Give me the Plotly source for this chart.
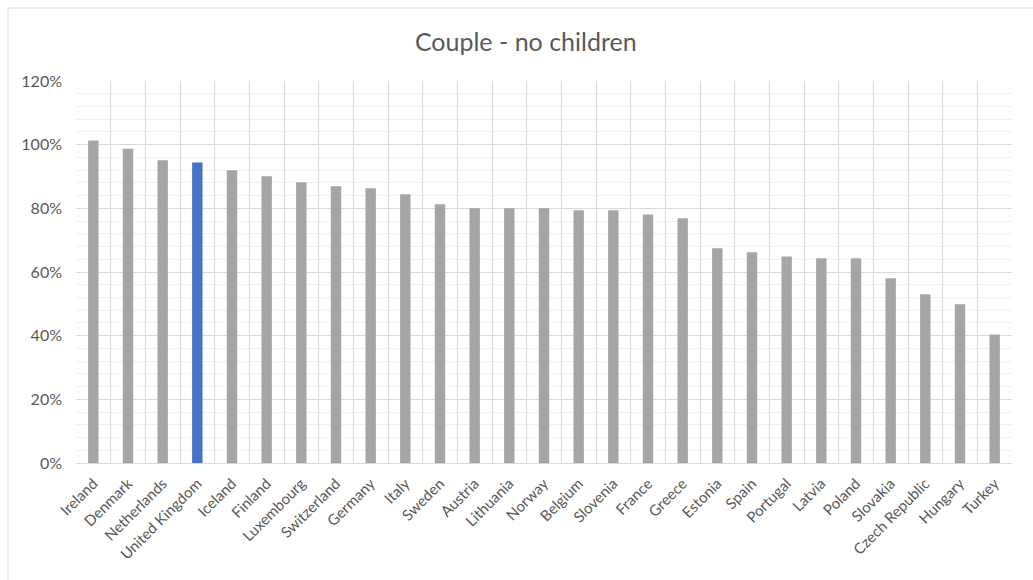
import plotly.graph_objects as go

countries = ["Ireland", "Denmark", "Netherlands", "United Kingdom", "Iceland", "Finland",
             "Luxembourg", "Switzerland", "Germany", "Italy", "Sweden", "Austria",
             "Lithuania", "Norway", "Belgium", "Slovenia", "France", "Greece", "Estonia",
             "Spain", "Portugal", "Latvia", "Poland", "Slovakia", "Czech Republic",
             "Hungary", "Turkey"]
values = [1.013, 0.987, 0.951, 0.944, 0.920, 0.901, 0.882, 0.869, 0.863, 0.844, 0.813,
          0.800, 0.800, 0.800, 0.794, 0.794, 0.781, 0.769, 0.675, 0.662, 0.649, 0.643,
          0.643, 0.580, 0.530, 0.499, 0.404]
highlight = "United Kingdom"

GREY = "#a5a5a5"
BLUE = "#4472c4"
colors = [BLUE if c == highlight else GREY for c in countries]

FONT = "Lato, 'Open Sans', sans-serif"
TXT = "#595959"

fig = go.Figure(go.Bar(x=countries, y=values, marker=dict(color=colors, line=dict(width=0)),
                       hoverinfo="x+y"))

fig.update_layout(
    width=1033, height=580,
    margin=dict(l=76, r=21, t=81, b=117),
    paper_bgcolor="white", plot_bgcolor="white",
    bargap=0.7,
    showlegend=False,
    font=dict(family=FONT, color=TXT, size=15),
    title=dict(text="Couple - no children", x=0.509, xanchor="center", y=0.927,
               yanchor="middle", font=dict(family=FONT, size=25, color=TXT)),
    xaxis=dict(type="category", tickson="boundaries", showgrid=True, gridcolor="#d9d9d9",
               gridwidth=1, tickangle=-45, ticks="", showline=True, linecolor="#d9d9d9",
               tickfont=dict(size=15, color=TXT), mirror=False, ticklabelstandoff=5),
    yaxis=dict(range=[0, 1.2], dtick=0.2, tickformat=".0%", showgrid=True,
               gridcolor="#d9d9d9", gridwidth=1, zeroline=False, ticks="",
               tickfont=dict(size=16, color=TXT), ticklabelstandoff=13,
               minor=dict(dtick=0.04, showgrid=True, gridcolor="#f0f0f0", gridwidth=1)),
    shapes=[dict(type="rect", xref="paper", yref="paper",
                 x0=(8 - 76) / 936, x1=1.1, y0=-0.4, y1=1 + (81 - 8) / 382,
                 line=dict(color="#d9d9d9", width=1), fillcolor="rgba(0,0,0,0)", layer="below")],
)

fig.write_html("out.html")
